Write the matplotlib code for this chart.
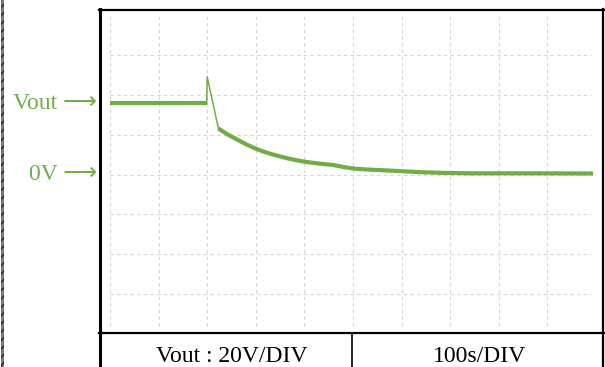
import matplotlib.pyplot as plt
from matplotlib.lines import Line2D
from matplotlib.patches import Rectangle

# scope trace, time in s, voltage in V
t_flat = [0, 199]
v_flat = [35.8, 35.8]

t_spike = [199, 200, 223]
v_spike = [35.8, 49.2, 23.2]

t_decay = [223, 243, 263, 281, 298, 315, 333, 350, 366, 384, 401, 430, 459,
           482, 504, 530, 556, 590, 644, 690, 741, 870, 994]
v_decay = [23.2, 20.0, 17.4, 15.1, 13.2, 11.6, 10.2, 9.1, 8.1, 7.2, 6.4, 5.5, 4.8,
           3.7, 2.9, 2.5, 2.2, 1.8, 1.1, 0.8, 0.6, 0.6, 0.5]

grid_t = [0, 100, 200, 300, 400, 500, 600, 700, 800, 900]
grid_v = [-60, -40, -20, 0, 20, 40, 60]

labels_left = ['Vout', '0V']
labels_left_v = [35.8, 0]
scale_labels = ['Vout : 20V/DIV', '100s/DIV']

W, H = 605, 367
GREEN = '#70AD47'
SERIF = ['Liberation Serif', 'DejaVu Sans']

fig = plt.figure(figsize=(W / 100, H / 100), dpi=100)

def fx(px):
    return px / W

def fy(py):
    return 1 - py / H

# plot area: x 100..603 px, y 10..333 px
ax = fig.add_axes([fx(100), fy(333), fx(603) - fx(100), fy(10) - fy(333)])
px_per_s = 48.6 / 100
px_per_v = 39.75 / 20
ax.set_xlim(-10 / px_per_s, 1000 + 7 / px_per_s)
ax.set_ylim(-(333 - 174.5) / px_per_v, (174.5 - 10) / px_per_v)
ax.set_xticks([])
ax.set_yticks([])
for s in ax.spines.values():
    s.set_visible(False)

ax.vlines(grid_t, -76, 80, colors='#d4d4d4', linestyles=(0, (3, 3)), linewidth=0.8)
ax.hlines(grid_v, 0, 990, colors='#d4d4d4', linestyles=(0, (3, 3)), linewidth=0.8)

ax.plot(t_flat, v_flat, color=GREEN, lw=3.0, solid_capstyle='butt')
ax.plot(t_spike, v_spike, color=GREEN, lw=1.1)
ax.plot(t_decay, v_decay, color=GREEN, lw=3.0, solid_capstyle='butt')

# channel markers on the left
for lab, v in zip(labels_left, labels_left_v):
    ax.text(-27, v, lab + ' \u27f6', ha='right', va='center', fontsize=17,
            color=GREEN, family=SERIF, clip_on=False)

# frame and the small table below it
k = 'black'
fig.add_artist(Line2D([fx(100), fx(100)], [fy(9), fy(367)], color=k, lw=2.2))
fig.add_artist(Line2D([fx(603), fx(603)], [fy(9), fy(367)], color=k, lw=1.6))
fig.add_artist(Line2D([fx(99), fx(604)], [fy(10), fy(10)], color=k, lw=1.6))
fig.add_artist(Line2D([fx(99), fx(604)], [fy(333), fy(333)], color=k, lw=1.6))
fig.add_artist(Line2D([fx(352), fx(352)], [fy(333), fy(367)], color=k, lw=1.2))

fig.text(fx(232), fy(362), scale_labels[0], ha='center', va='baseline',
         fontsize=17, family=SERIF, color='black')
fig.text(fx(480), fy(362), scale_labels[1], ha='center', va='baseline',
         fontsize=17, family=SERIF, color='black')

# hatched page border at the far left
fig.add_artist(Rectangle((fx(1), 0), fx(4) - fx(1), 1, transform=fig.transFigure,
                         facecolor='#777777', edgecolor='#222222', hatch='////',
                         lw=0))

fig.savefig('out.png', dpi=100)
